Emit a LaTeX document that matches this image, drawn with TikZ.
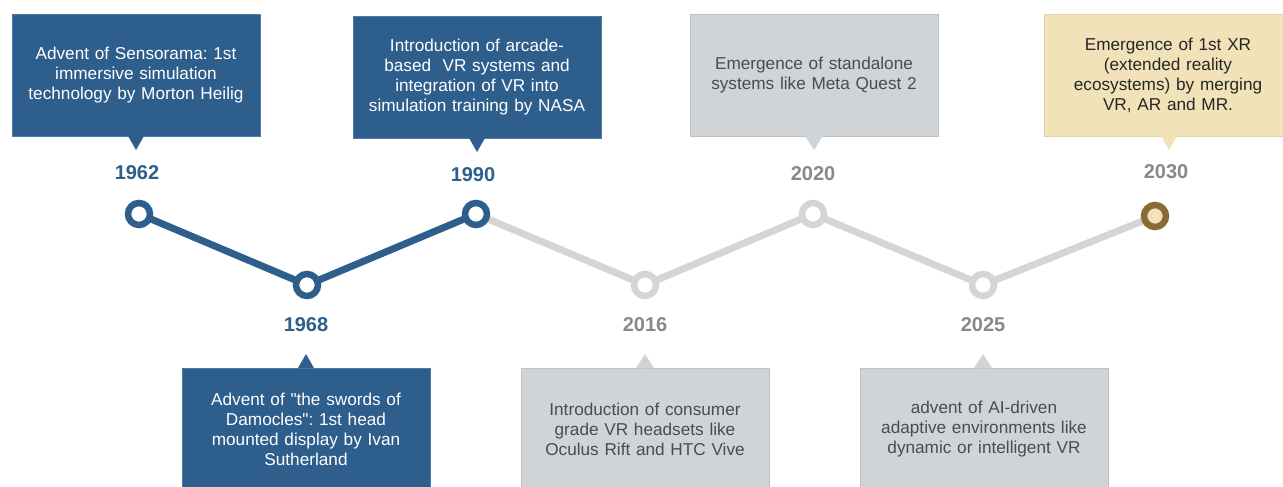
\documentclass[tikz,border=0pt]{standalone}
\usepackage{fontspec}
\setmainfont{Liberation Sans}[Ligatures=TeXOff]
\usetikzlibrary{backgrounds}
\frenchspacing

\definecolor{vrblue}{HTML}{2E5E8C}
\definecolor{vrblueedge}{HTML}{5079A3}
\definecolor{futgray}{HTML}{D1D4D7}
\definecolor{futgrayedge}{HTML}{BFC2C5}
\definecolor{futtext}{HTML}{4A4D50}
\definecolor{yeargray}{HTML}{86898C}
\definecolor{linegray}{HTML}{D3D5D7}
\definecolor{xrbeige}{HTML}{F1E2B9}
\definecolor{xrbeigeedge}{HTML}{E2D2A6}
\definecolor{xrbrown}{HTML}{8C6A35}

\begin{document}
\begin{tikzpicture}[x=1pt,y=-1pt,
  event/.style={rectangle, minimum width=248pt, minimum height=122pt,
    text width=240pt, align=center, inner sep=0pt, line width=0.8pt,
    font=\fontsize{17.2}{20}\selectfont},
  pastbox/.style={event, fill=vrblue, draw=vrblueedge, text=white},
  futbox/.style={event, fill=futgray, draw=futgrayedge, text=futtext},
  xrbox/.style={event, fill=xrbeige, draw=xrbeigeedge, text=black!85},
  year/.style={font=\fontsize{20}{22}\bfseries\selectfont},
  pastyear/.style={year, text=vrblue},
  futyear/.style={year, text=yeargray},
  dot/.style={circle, minimum size=22pt, inner sep=0pt, line width=6.5pt, fill=white},
  pastdot/.style={dot, draw=vrblue},
  futdot/.style={dot, draw=linegray},
  xrdot/.style={dot, draw=xrbrown, fill=xrbeige},
  pastline/.style={draw=vrblue, line width=7pt},
  futline/.style={draw=linegray, line width=7pt},
]
\useasboundingbox (0,0) rectangle (1283,487);

% milestone markers
\node[pastdot] (d1962) at (139,214) {};
\node[pastdot] (d1968) at (307,285) {};
\node[pastdot] (d1990) at (476,214) {};
\node[futdot]  (d2016) at (645,285) {};
\node[futdot]  (d2020) at (813,214) {};
\node[futdot]  (d2025) at (983,285) {};
\node[xrdot]   (d2030) at (1155,216) {};

% year labels
\node[pastyear] (y1962) at (137,173) {1962};
\node[pastyear] (y1968) at (306,325) {1968};
\node[pastyear] (y1990) at (473,175) {1990};
\node[futyear]  (y2016) at (645,325) {2016};
\node[futyear]  (y2020) at (813,174) {2020};
\node[futyear]  (y2025) at (983,325) {2025};
\node[futyear]  (y2030) at (1166,172) {2030};

% event boxes above the line
\node[pastbox] (e1962) at (136,75) {Advent of Sensorama: 1st\\immersive simulation\\technology by Morton Heilig};
\node[pastbox] (e1990) at (477,77) {Introduction of arcade-\\based\ \ VR systems and\\integration of VR into\\simulation training by NASA};
\node[futbox]  (e2020) at (814,75) {Emergence of standalone\\systems like Meta Quest 2};
\node[xrbox]   (e2030) at (1168,75) {Emergence of 1st XR\\(extended reality\\ecosystems) by merging\\VR, AR and MR.};

% event boxes below the line
\node[pastbox] (e1968) at (306,429) {Advent of "the swords of\\Damocles": 1st head\\mounted display by Ivan\\Sutherland};
\node[futbox]  (e2016) at (645,429) {Introduction of consumer\\grade VR headsets like\\Oculus Rift and HTC Vive};
\node[futbox]  (e2025) at (984,429) {advent of AI-driven\\adaptive environments like\\dynamic or intelligent VR};

% callout pointers (downwards from the upper boxes, upwards from the lower ones)
\fill[vrblue]  ([xshift=-8pt,yshift=0.4pt]e1962.south) -- ([xshift=8pt,yshift=0.4pt]e1962.south) -- ++(-8,14) -- cycle;
\fill[vrblue]  ([xshift=-8pt,yshift=0.4pt]e1990.south) -- ([xshift=8pt,yshift=0.4pt]e1990.south) -- ++(-8,14) -- cycle;
\fill[futgray] ([xshift=-9pt,yshift=0.4pt]e2020.south) -- ([xshift=9pt,yshift=0.4pt]e2020.south) -- ++(-9,14) -- cycle;
\fill[xrbeige] ([xshift=-7pt,yshift=0.4pt]e2030.south) -- ([xshift=9pt,yshift=0.4pt]e2030.south) -- ++(-8,14) -- cycle;
\fill[vrblue]  ([xshift=-8pt,yshift=-0.4pt]e1968.north) -- ([xshift=8pt,yshift=-0.4pt]e1968.north) -- ++(-8,-14) -- cycle;
\fill[futgray] ([xshift=-9pt,yshift=-0.4pt]e2016.north) -- ([xshift=9pt,yshift=-0.4pt]e2016.north) -- ++(-9,-14) -- cycle;
\fill[futgray] ([xshift=-10pt,yshift=-0.4pt]e2025.north) -- ([xshift=8pt,yshift=-0.4pt]e2025.north) -- ++(-9,-14) -- cycle;

% timeline segments
\begin{scope}[on background layer]
\draw[pastline] (d1962.center) -- (d1968.center) -- (d1990.center);
\draw[futline]  (d1990.center) -- (d2016.center) -- (d2020.center) -- (d2025.center) -- (d2030.center);
\end{scope}
\end{tikzpicture}
\end{document}
